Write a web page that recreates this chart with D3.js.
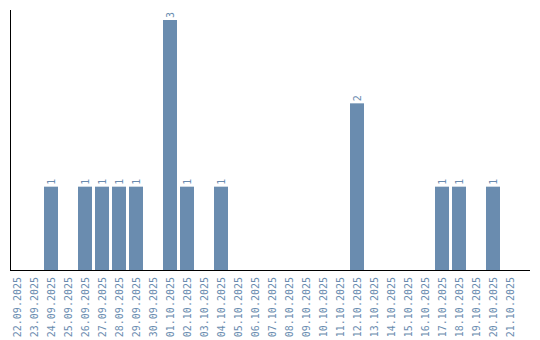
<!DOCTYPE html>
<html><head><meta charset="utf-8">
<script src="https://cdn.jsdelivr.net/npm/d3@7"></script>
<style>body{margin:0;background:#fff}</style>
</head><body>
<svg id="c" width="540" height="340"></svg>
<script>
const categories = ["22.09.2025","23.09.2025","24.09.2025","25.09.2025","26.09.2025","27.09.2025","28.09.2025","29.09.2025","30.09.2025","01.10.2025","02.10.2025","03.10.2025","04.10.2025","05.10.2025","06.10.2025","07.10.2025","08.10.2025","09.10.2025","10.10.2025","11.10.2025","12.10.2025","13.10.2025","14.10.2025","15.10.2025","16.10.2025","17.10.2025","18.10.2025","19.10.2025","20.10.2025","21.10.2025"];
const values = [0,0,1,0,1,1,1,1,0,3,1,0,1,0,0,0,0,0,0,0,2,0,0,0,0,1,1,0,1,0];

const svg = d3.select("#c");
const x = d3.scaleBand().domain(categories).range([10, 520]).paddingInner(0).paddingOuter(0);
const y = d3.scaleLinear().domain([0, 3]).range([270, 20]);
const barW = 14;
const col = "#6a8caf";
const font = "'DejaVu Sans Mono', monospace";

svg.append("g").selectAll("rect").data(categories).join("rect")
  .filter((d,i)=>values[i]>0)
  .attr("x", d => x(d)).attr("width", barW)
  .attr("y", (d) => y(values[categories.indexOf(d)]))
  .attr("height", d => 270 - y(values[categories.indexOf(d)]))
  .attr("fill", col);

svg.append("g").selectAll("text").data(categories.filter((d,i)=>values[i]>0)).join("text")
  .attr("transform", d => `translate(${x(d)+barW/2+3.5},${y(values[categories.indexOf(d)])-2}) rotate(-90)`)
  .attr("font-family", font).attr("font-size", 10).attr("fill", col)
  .text(d => values[categories.indexOf(d)]);

svg.append("g").selectAll("text").data(categories).join("text")
  .attr("transform", d => `translate(${x(d)+barW/2+3.5},277) rotate(-90)`)
  .attr("text-anchor", "end")
  .attr("font-family", font).attr("font-size", 10).attr("fill", col)
  .text(d => d);

svg.append("line").attr("x1",10.5).attr("x2",10.5).attr("y1",10).attr("y2",270.5).attr("stroke","#000");
svg.append("line").attr("x1",10).attr("x2",530).attr("y1",270.5).attr("y2",270.5).attr("stroke","#000");
</script>
</body></html>
